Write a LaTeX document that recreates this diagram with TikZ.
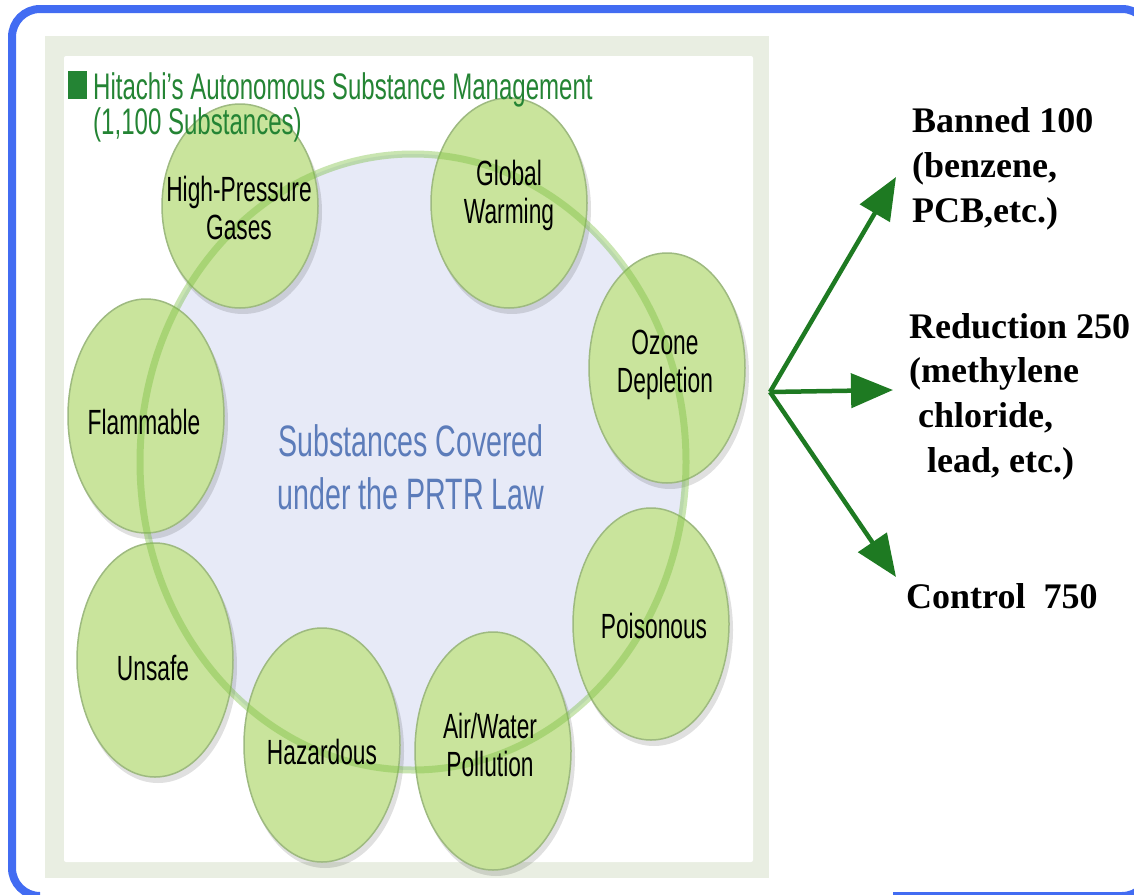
\documentclass[tikz,border=0pt]{standalone}
\usepackage{fontspec}
\setmainfont{Liberation Serif}
\newfontfamily\condfont[FakeStretch=0.65]{Liberation Sans}
\usepackage{tikz}
\usetikzlibrary{arrows.meta}

\definecolor{frameblue}{RGB}{66,108,242}
\definecolor{panelband}{RGB}{233,238,226}
\definecolor{lavender}{RGB}{231,234,247}
\definecolor{bubblefill}{RGB}{201,228,156}
\definecolor{bubbleedge}{RGB}{158,186,128}
\definecolor{ringgreen}{RGB}{120,190,60}
\definecolor{titlegreen}{RGB}{36,132,52}
\definecolor{arrowgreen}{RGB}{30,122,34}
\definecolor{lawblue}{RGB}{92,124,186}

\begin{document}
\begin{tikzpicture}[x=1pt, y=-1pt,
    bubble/.style={fill=bubblefill, draw=bubbleedge, line width=1.5pt},
    bubtext/.style={font=\condfont\fontsize{35}{38}\selectfont, align=center, inner sep=0pt},
    sidenote/.style={font=\bfseries\fontsize{36}{44.6}\selectfont, align=left, inner sep=0pt, anchor=base west},
    branch/.style={arrowgreen, line width=4.5pt, -{Triangle[length=42pt, width=34pt]}}]
    \useasboundingbox (0,0) rectangle (1134,894);
    \clip (0,0) rectangle (1134,894);

    % outer frame
    \draw[frameblue, line width=8pt, rounded corners=28pt]
        (893,896) -- (1150,896) -- (1150,9) -- (12,9) -- (12,896) -- (40,896);

    % picture panel
    \fill[panelband] (45,36) rectangle (769,878);
    \fill[white, rounded corners=2pt] (64,56) rectangle (753,862);
    \fill[lavender] (413,462) ellipse [x radius=273, y radius=308];

    % the eight bubbles
    \foreach \x/\y/\ry in {240/206/102, 509/203/105, 667/368/115, 146/416/117,
                           155/660/117, 322/745/117, 493/751/119, 651/624/116} {
        \fill[black, opacity=0.12] (\x+3,\y+6) ellipse [x radius=79, y radius=\ry];
        \filldraw[bubble] (\x,\y) ellipse [x radius=78, y radius=\ry];
    }
    \draw[ringgreen, opacity=0.4, line width=7pt] (413,462) ellipse [x radius=273, y radius=308];

    \node[bubtext] (hpg) at (239,208) {High-Pressure\\Gases};
    \node[bubtext] (gwm) at (509,195) {Global\\Warming};
    \node[bubtext] (ozd) at (665,365) {Ozone\\Depletion};
    \node[bubtext] (flm) at (144,422) {Flammable};
    \node[bubtext] (uns) at (153,668) {Unsafe};
    \node[bubtext] (hzd) at (322,752) {Hazardous};
    \node[bubtext] (awp) at (490,745) {Air/Water\\Pollution};
    \node[bubtext] (psn) at (654,626) {Poisonous};

    \node[font=\condfont\fontsize{44}{53}\selectfont, lawblue, align=center, inner sep=0pt]
        (prtr) at (411,467) {Substances Covered\\under the PRTR Law};

    % title (base = last line)
    \fill[titlegreen] (68,71) rectangle (87,99);
    \node[anchor=base west, inner sep=0pt, titlegreen, align=left,
          font=\condfont\fontsize{37}{35}\selectfont]
        (ttl) at (93,134) {Hitachi’s Autonomous Substance Management\\(1,100 Substances)};

    % three categories
    \node[sidenote] (ban) at (912,222) {Banned 100\\(benzene,\\PCB,etc.)};
    \node[sidenote] (red) at (909,472) {Reduction 250\\(methylene\\\hspace*{9pt}chloride,\\\hspace*{18pt}lead, etc.)};
    \node[sidenote] (ctl) at (906,608) {Control\ \ 750};

    \coordinate (fork) at (770,392);
    \coordinate (banTip) at (896,177);
    \coordinate (redTip) at (893,390);
    \coordinate (ctlTip) at (896,577);
    \draw[branch] (fork) -- (banTip);
    \draw[branch] (fork) -- (redTip);
    \draw[branch] (fork) -- (ctlTip);
\end{tikzpicture}
\end{document}
